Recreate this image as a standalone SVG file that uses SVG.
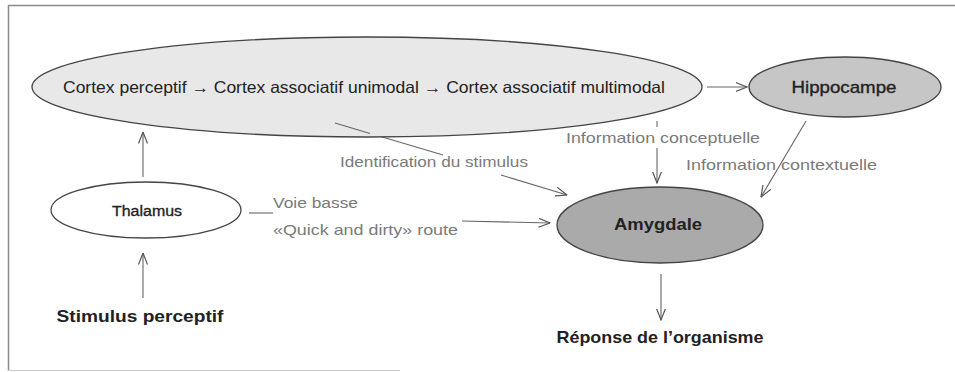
<svg xmlns="http://www.w3.org/2000/svg" width="955" height="372" viewBox="0 0 955 372">
<defs>
<marker id="arr" viewBox="0 0 12 10" refX="11.5" refY="5" markerWidth="12" markerHeight="10" markerUnits="userSpaceOnUse" orient="auto">
<path d="M0,0.5 L11.5,5 L0,9.5" fill="none" stroke="#555" stroke-width="1.2"/>
</marker>
</defs>
<style>
.node{stroke:#444;stroke-width:1.3}
.t{font-family:"Liberation Sans",Arial,sans-serif;fill:#222;text-anchor:middle}
.m{stroke:#222;stroke-width:0.35}
.b{font-weight:bold}
.lbl{font-family:"Liberation Sans",Arial,sans-serif;fill:#7a7a7a;font-size:15px}
.c{stroke:#666;stroke-width:1.1;fill:none}
.ca{stroke:#666;stroke-width:1.1;fill:none;marker-end:url(#arr)}
</style>
<rect width="955" height="372" fill="#fff"/>
<g id="frame" stroke="#8a8a8a" fill="none">
<line x1="8.5" y1="5.5" x2="955" y2="5.5" stroke-width="1.5"/>
<line x1="8.5" y1="5" x2="8.5" y2="371" stroke-width="1.5"/>
<line x1="8" y1="370.5" x2="400" y2="370.5" stroke="#ccc" stroke-width="1"/>
</g>
<g id="connectors">
<line class="ca" x1="143" y1="298" x2="143" y2="253"/>
<line class="ca" x1="143" y1="177" x2="143" y2="132"/>
<line class="ca" x1="707" y1="87" x2="747" y2="87"/>
<line class="c" x1="657" y1="121" x2="657" y2="127"/>
<line class="ca" x1="657" y1="148" x2="657" y2="183"/>
<line class="ca" x1="806" y1="121" x2="761" y2="197"/>
<line class="c" x1="335" y1="123" x2="443" y2="155"/>
<line class="ca" x1="501" y1="175" x2="567" y2="195"/>
<line class="c" x1="249" y1="213" x2="273" y2="213"/>
<line class="ca" x1="462" y1="221" x2="550" y2="223"/>
<line class="ca" x1="661" y1="274" x2="661" y2="320"/>
</g>
<g id="cortex">
<ellipse class="node" cx="367" cy="87" rx="335" ry="50" fill="#e8e8e8"/>
<text class="t" x="364" y="93" font-size="16.5" textLength="602" lengthAdjust="spacingAndGlyphs">Cortex perceptif → Cortex associatif unimodal → Cortex associatif multimodal</text>
</g>
<line class="c" x1="335" y1="123" x2="370" y2="133.5"/>
<g id="hippocampe">
<ellipse class="node" cx="845" cy="87" rx="96" ry="30" fill="#c6c6c6"/>
<text class="t m" x="844" y="93" font-size="17" textLength="105" lengthAdjust="spacingAndGlyphs">Hippocampe</text>
</g>
<g id="thalamus">
<ellipse class="node" cx="146" cy="210" rx="95" ry="28" fill="#fff"/>
<text class="t m" x="147" y="216" font-size="15.5" textLength="70" lengthAdjust="spacingAndGlyphs">Thalamus</text>
</g>
<g id="amygdale">
<ellipse class="node" cx="660" cy="225" rx="103" ry="38" fill="#aaaaaa"/>
<text class="t b" x="658" y="230" font-size="16" textLength="88" lengthAdjust="spacingAndGlyphs">Amygdale</text>
</g>
<g id="stimulus">
<text class="t b" x="140" y="322" font-size="17" textLength="167" lengthAdjust="spacingAndGlyphs">Stimulus perceptif</text>
</g>
<g id="reponse">
<text class="t b" x="660" y="343" font-size="17" textLength="207" lengthAdjust="spacingAndGlyphs">Réponse de l’organisme</text>
</g>
<g id="labels">
<text class="lbl" x="340" y="167" textLength="188" lengthAdjust="spacingAndGlyphs">Identification du stimulus</text>
<text class="lbl" x="566" y="143" textLength="194" lengthAdjust="spacingAndGlyphs">Information conceptuelle</text>
<text class="lbl" x="686" y="170" textLength="191" lengthAdjust="spacingAndGlyphs">Information contextuelle</text>
<text class="lbl" x="273" y="208" textLength="85" lengthAdjust="spacingAndGlyphs">Voie basse</text>
<text class="lbl" x="273" y="235" textLength="185" lengthAdjust="spacingAndGlyphs">«Quick and dirty» route</text>
</g>
</svg>
